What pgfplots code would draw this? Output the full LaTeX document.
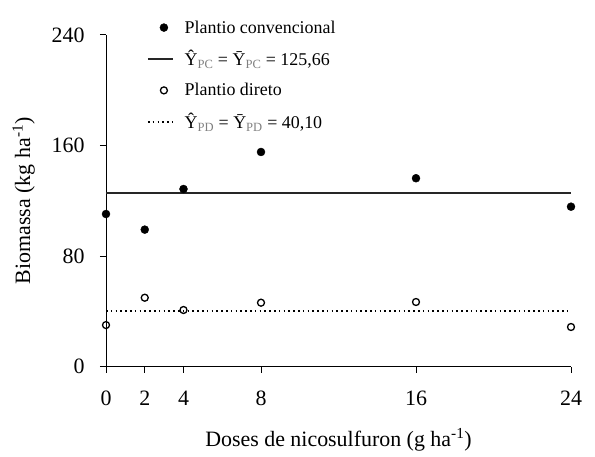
\documentclass[border=0pt]{standalone}
\usepackage{pgfplots}
\pgfplotsset{compat=1.18}
\usepackage{fontspec}
\setmainfont{Liberation Serif}

\pgfplotsset{
  lineleg/.style={legend image code/.code={\draw[##1] (0bp,0bp) -- (25bp,0bp);}},
  markleg/.style={legend image code/.code={\draw[mark repeat=2,mark phase=2,##1] plot coordinates {(0bp,0bp) (16bp,0bp) (25bp,0bp)};}},
}

\begin{document}
\begin{tikzpicture}
\useasboundingbox (-106bp,-90.5bp) rectangle (489bp,366.5bp);
\begin{axis}[
  at={(0,0)},anchor=south west,
  scale only axis,width=465bp,height=331.5bp,
  axis lines=left,axis line style={-,line width=1pt},
  xmin=0,xmax=24,ymin=0,ymax=240,
  xtick={0,2,4,8,16,24},ytick={0,80,160,240},
  tick align=outside,major tick length=6bp,
  tick style={black,line width=1pt},
  /pgf/number format/assume math mode=true,
  ticklabel style={font=\fontsize{22}{24}\selectfont},
  xticklabel style={yshift=-15bp},
  yticklabel style={xshift=-12bp},
  xlabel={Doses de nicosulfuron (g ha\textsuperscript{-1})},
  ylabel={Biomassa (kg ha\textsuperscript{-1})},
  label style={font=\fontsize{22}{24}\selectfont},
  xlabel style={yshift=-16bp},
  ylabel style={yshift=10bp},
  clip=false,
  legend cell align=left,
  legend style={at={(0.088,1.05)},anchor=north west,draw=none,fill=none,
    font=\fontsize{18}{20}\selectfont,row sep=12bp,inner sep=0pt,
    /tikz/every odd column/.append style={column sep=9bp}},
]
\addplot[only marks,mark=*,mark size=4bp,black,markleg]
  coordinates {(0,110.4) (2,99.1) (4,128.5) (8,155.3) (16,136.3) (24,115.7)};
\addlegendentry{Plantio convencional}
\addplot[black!85,line width=1.6pt,lineleg]
  coordinates {(0,125.66) (24,125.66)};
\addlegendentry{\^Y\textsubscript{\textcolor{gray}{PC}} = \=Y\textsubscript{\textcolor{gray}{PC}} = 125,66}
\addplot[only marks,mark=o,mark size=3.5bp,black,line width=1.3pt,markleg]
  coordinates {(0,30.0) (2,49.8) (4,40.9) (8,46.2) (16,46.7) (24,28.6)};
\addlegendentry{Plantio direto}
\addplot[black,line width=1.6pt,dash pattern=on 1.6bp off 3.2bp,lineleg]
  coordinates {(0,40.10) (24,40.10)};
\addlegendentry{\^Y\textsubscript{\textcolor{gray}{PD}} = \=Y\textsubscript{\textcolor{gray}{PD}} = 40,10}
\end{axis}
\end{tikzpicture}
\end{document}
